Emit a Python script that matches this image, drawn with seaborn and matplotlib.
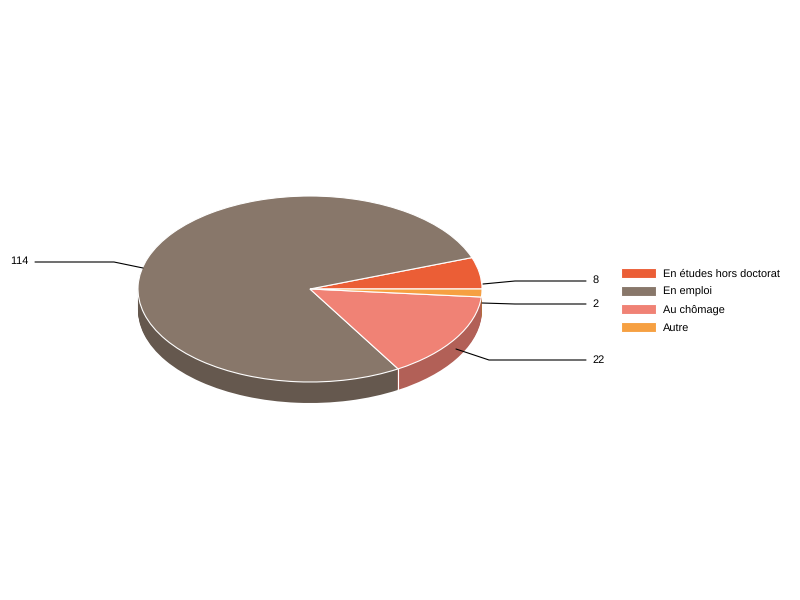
import numpy as np
import matplotlib
matplotlib.use('Agg')
import matplotlib.pyplot as plt
import seaborn as sns

# chart data
categories = ['En études hors doctorat', 'En emploi', 'Au chômage', 'Autre']
counts = [8, 114, 22, 2]
colors = ['#EB5E36', '#88776A', '#F08275', '#F6A042']

# pie geometry in pixels of the 800x600 image
CX, CY, RX, RY = 310, 289, 172, 93
DEPTH = 21
WIDTH, HEIGHT = 800, 600

# leader lines: rim point, elbow, end, then label position
leaders = {
    '8': [(483, 284), (515, 281), (586, 281), (592.5, 280.5, 'left')],
    '114': [(143, 268), (114, 262), (35, 262), (28.5, 261.5, 'right')],
    '22': [(456, 349), (489, 360), (586, 360), (592.5, 360, 'left')],
    '2': [(482, 303), (515, 304), (586, 304), (592.5, 304, 'left')],
}


def px(x, y):
    # image pixels to the squashed data space of the pie
    return (x - CX) / RX, (CY - y) / RY


sns.set_theme(style='white')
plt.rcParams['font.family'] = ['Liberation Sans', 'DejaVu Sans']
plt.rcParams['text.hinting'] = 'no_hinting'
plt.rcParams['text.kerning_factor'] = 6
palette = sns.color_palette(colors)
dark = [tuple(np.array(c) * 0.74) for c in palette]

fig = plt.figure(figsize=(8, 6), dpi=100)
ax = fig.add_axes([0, 0, 1, 1])

# side wall: dark copies of the pie stacked from the bottom up
for k in range(DEPTH, 0, -1):
    ax.pie(counts, colors=dark, startangle=0, counterclock=True,
           center=(0, -k / RY), radius=1, wedgeprops={'linewidth': 0})

# white line where two slices meet on the front of the wall
angles = np.cumsum(counts) / np.sum(counts) * 2 * np.pi
for a in angles:
    if np.sin(a) < -0.2:
        ax.plot([np.cos(a)] * 2, [np.sin(a), np.sin(a) - DEPTH / RY],
                color='white', lw=0.8, zorder=3)

wedges, _ = ax.pie(counts, colors=palette, startangle=0, counterclock=True,
                   center=(0, 0), radius=1,
                   wedgeprops={'edgecolor': 'white', 'linewidth': 0.8})
for w in wedges:
    w.set_zorder(4)

for label, pts in leaders.items():
    xs, ys = zip(*[px(p[0], p[1]) for p in pts[:3]])
    ax.plot(xs, ys, color='black', lw=0.8, zorder=5)
    lx, ly = px(pts[3][0], pts[3][1])
    ax.text(lx, ly, label, ha=pts[3][2], va='center', fontsize=7.9, color='black')

# pie() resets limits and aspect, so set them last
ax.set_aspect('auto')
ax.set_xlim(-CX / RX, (WIDTH - CX) / RX)
ax.set_ylim((CY - HEIGHT) / RY, CY / RY)
ax.axis('off')

leg = fig.legend(wedges, categories, loc='upper left',
                 bbox_to_anchor=(621 / WIDTH, 1 - 267.5 / HEIGHT),
                 frameon=False, fontsize=7.9, borderpad=0, borderaxespad=0,
                 handlelength=3.2, handleheight=1.1, handletextpad=0.64,
                 labelspacing=0.62, labelcolor='black')

fig.savefig('out.png', dpi=100, facecolor='white')
